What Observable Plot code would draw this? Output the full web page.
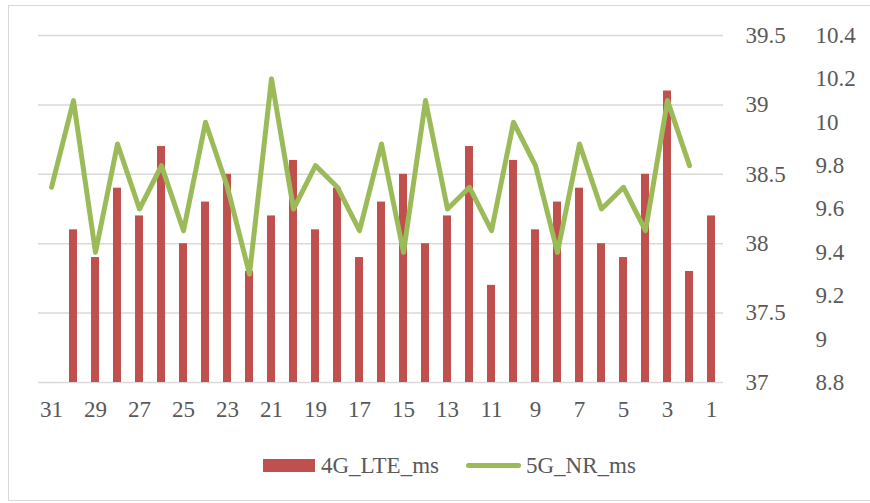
<!DOCTYPE html>
<html>
<head>
<meta charset="utf-8">
<script src="https://cdn.jsdelivr.net/npm/d3@7"></script>
<script src="https://cdn.jsdelivr.net/npm/@observablehq/plot@0.6"></script>
<style>
  html, body { margin: 0; padding: 0; background: #fff; }
  #wrap { position: relative; width: 870px; height: 503px; overflow: hidden; font-family: "Liberation Serif", serif; }
  #frame { position: absolute; left: 8px; top: 5px; width: 870px; height: 496px; border: 1.5px solid #d9d9d9; box-sizing: border-box; }
  #chart { position: absolute; left: 0; top: 0; }
  .lg { position: absolute; color: #595959; font-size: 23px; line-height: 1; }
</style>
</head>
<body>
<div id="wrap">
  <div id="frame"></div>
  <div id="chart"></div>
  <div id="legend"></div>
</div>
<script>
// Categories (days, shown in reverse order)
const days = d3.range(31, 0, -1).map(String);
// 4G LTE latency (ms) for days 30..1 (no bar on day 31)
const lteDays = d3.range(30, 0, -1).map(String);
const lteValues = [38.1, 37.9, 38.4, 38.2, 38.7, 38.0, 38.3, 38.5, 37.8, 38.2,
                   38.6, 38.1, 38.4, 37.9, 38.3, 38.5, 38.0, 38.2, 38.7, 37.7,
                   38.6, 38.1, 38.3, 38.4, 38.0, 37.9, 38.5, 39.1, 37.8, 38.2];
// 5G NR latency (ms) for days 31..2 (no point on day 1)
const nrDays = d3.range(31, 1, -1).map(String);
const nrValues = [9.7, 10.1, 9.4, 9.9, 9.6, 9.8, 9.5, 10.0, 9.7, 9.3,
                  10.2, 9.6, 9.8, 9.7, 9.5, 9.9, 9.4, 10.1, 9.6, 9.7,
                  9.5, 10.0, 9.8, 9.4, 9.9, 9.6, 9.7, 9.5, 10.1, 9.8];
// Axis ticks
const lteTicks = [37, 37.5, 38, 38.5, 39, 39.5];
const nrTicks = [8.8, 9, 9.2, 9.4, 9.6, 9.8, 10, 10.2, 10.4];
const xTickLabels = days.filter(d => (+d) % 2 === 1);
const seriesNames = ["4G_LTE_ms", "5G_NR_ms"];

const lteDomain = [lteTicks[0], lteTicks[lteTicks.length - 1]];
const nrDomain = [nrTicks[0], nrTicks[nrTicks.length - 1]];
// map secondary (5G) values onto the primary scale
const toPrimary = d3.scaleLinear(nrDomain, lteDomain);

const lteData = lteDays.map((d, i) => ({day: d, v: lteValues[i]}));
const nrData = nrDays.map((d, i) => ({day: d, v: nrValues[i]}));

const textColor = "#595959";
const chart = Plot.plot({
  width: 870,
  height: 440,
  marginLeft: 38,
  marginRight: 147,
  marginTop: 35,
  marginBottom: 58,
  style: { fontFamily: "Liberation Serif, serif", fontSize: "23px", color: textColor, background: "transparent" },
  x: { type: "band", domain: days, padding: 0 },
  y: { domain: lteDomain },
  marks: [
    Plot.ruleY(lteTicks, { stroke: "#d9d9d9", strokeWidth: 1.5 }),
    Plot.barY(lteData, { x: "day", y1: () => lteDomain[0], y2: "v", fill: "#C0504D", insetLeft: 7, insetRight: 7 }),
    Plot.line(nrData, { x: "day", y: d => toPrimary(d.v), stroke: "#9BBB59", strokeWidth: 5, strokeLinejoin: "round", strokeLinecap: "round" }),
    Plot.axisX({ ticks: xTickLabels, tickSize: 0, tickPadding: 18, label: null, fill: textColor }),
    Plot.axisY({ anchor: "right", ticks: lteTicks, tickSize: 0, tickPadding: 22, label: null, fill: textColor, tickFormat: d => String(d) }),
    Plot.axisY({ anchor: "right", ticks: nrTicks.map(toPrimary), tickSize: 0, tickPadding: 92, label: null, fill: textColor,
                 tickFormat: d => String(+toPrimary.invert(d).toFixed(1)) })
  ]
});
document.getElementById("chart").appendChild(chart);

// Legend
const lg = document.getElementById("legend");
lg.innerHTML = `
  <div style="position:absolute;left:263px;top:459px;width:52px;height:13px;background:#C0504D"></div>
  <div class="lg" style="left:321px;top:454px">${seriesNames[0]}</div>
  <div style="position:absolute;left:466px;top:463px;width:55px;height:5px;border-radius:3px;background:#9BBB59"></div>
  <div class="lg" style="left:526px;top:454px">${seriesNames[1]}</div>
`;
</script>
</body>
</html>
